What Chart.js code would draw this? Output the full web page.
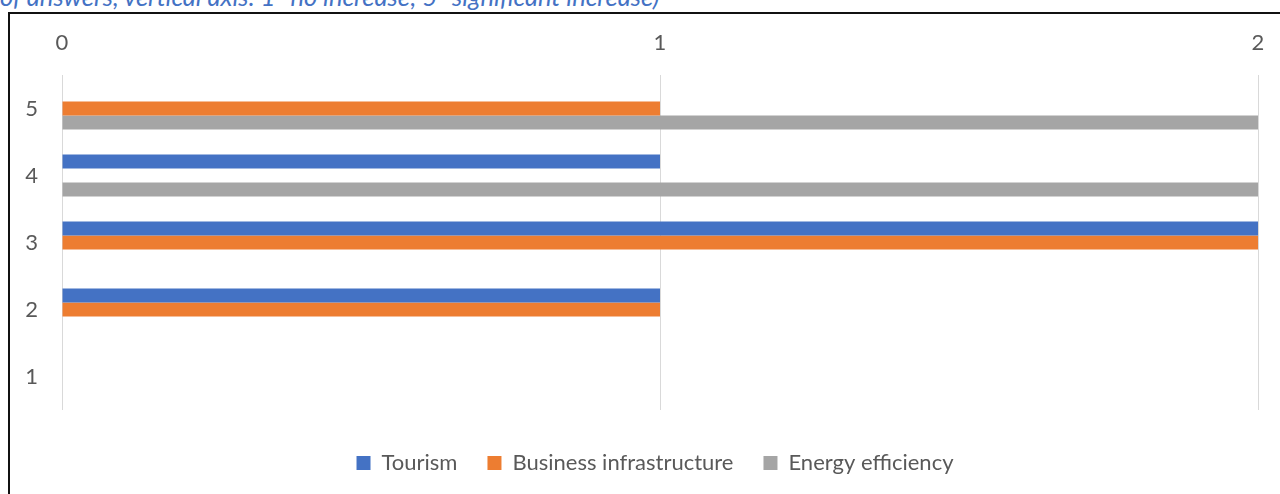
<!DOCTYPE html>
<html>
<head>
<meta charset="utf-8">
<script src="https://cdn.jsdelivr.net/npm/chart.js@4.4.1/dist/chart.umd.min.js"></script>
<style>
  body { margin: 0; background: #fff; overflow: hidden; }
  #caption {
    position: absolute; left: 0; top: -19px; white-space: nowrap;
    font: italic 25.5px Lato, "Open Sans", sans-serif; color: #4472C4;
  }
  #frame {
    position: absolute; left: 8px; top: 12px; width: 1400px; height: 600px;
    border-left: 2px solid #111; border-top: 2px solid #111;
  }
  #canvas { position: absolute; left: 0; top: 0; }
</style>
</head>
<body>
<div id="caption">of answers, vertical axis: 1=no increase; 5=significant increase)</div>
<div id="frame"></div>
<canvas id="canvas" width="1280" height="494"></canvas>
<script>
// categories (bottom to top) and the number of answers per series
const categories = ['1', '2', '3', '4', '5'];
const tourism = [0, 1, 2, 1, 0];
const businessInfra = [0, 1, 2, 0, 1];
const energyEff = [0, 0, 0, 2, 2];
const xTicks = [0, 1, 2];

const fontFamily = 'Lato, "Open Sans", sans-serif';

// push the legend down and right a bit, Chart.js puts it right under the plot
const legendNudge = {
  id: 'legendNudge',
  beforeInit(chart) {
    const fit = chart.legend.fit;
    chart.legend.fit = function() {
      fit.call(this);
      this.height = 84;
    };
  },
  afterLayout(chart) {
    const lg = chart.legend;
    lg.top += 12;
    lg.bottom += 12;
    lg.left += 26;
    lg.right += 26;
  }
};

let options = {
  type: 'bar',
  data: {
    labels: categories,
    datasets: [
      { label: 'Tourism', data: tourism, backgroundColor: '#4472C4' },
      { label: 'Business infrastructure', data: businessInfra, backgroundColor: '#ED7D31' },
      { label: 'Energy efficiency', data: energyEff, backgroundColor: '#A5A5A5' }
    ]
  },
  options: {
    indexAxis: 'y',
    responsive: false,
    animation: false,
    devicePixelRatio: 1,
    categoryPercentage: 0.627,
    barPercentage: 1,
    layout: { padding: { left: 0, right: 22, top: 0, bottom: 0 } },
    scales: {
      x: {
        position: 'top',
        min: xTicks[0],
        max: xTicks[xTicks.length - 1],
        afterBuildTicks: scale => { scale.ticks = xTicks.map(v => ({ value: v })); },
        afterFit: scale => {
          scale.height = 75;
          scale.paddingLeft = 0;
          scale.paddingRight = 0;
        },
        border: { display: false },
        grid: { color: '#D9D9D9', drawTicks: false },
        ticks: { color: '#595959', padding: 19, font: { family: fontFamily, size: 22 } }
      },
      y: {
        reverse: true,
        afterFit: scale => { scale.width = 62; },
        border: { display: false },
        grid: { display: false, drawTicks: false },
        ticks: { color: '#595959', padding: 24, font: { family: fontFamily, size: 22 } }
      }
    },
    plugins: {
      legend: {
        position: 'bottom',
        labels: {
          color: '#595959',
          boxWidth: 14,
          boxHeight: 14,
          padding: 30,
          font: { family: fontFamily, size: 22 }
        }
      },
      tooltip: { enabled: false }
    }
  },
  plugins: [legendNudge]
};

new Chart(document.getElementById('canvas'), options);
</script>
</body>
</html>
